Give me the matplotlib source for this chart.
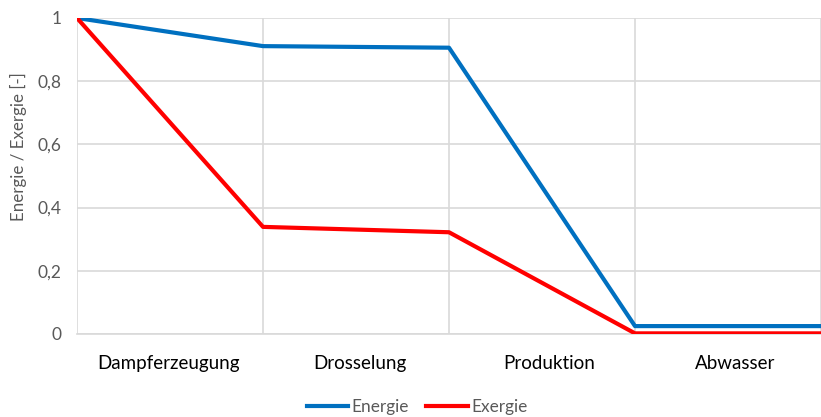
import numpy as np
import matplotlib
matplotlib.use('Agg')
import matplotlib.pyplot as plt

plt.rcParams['font.family'] = ['Lato', 'DejaVu Sans']

categories = ['Dampferzeugung', 'Drosselung', 'Produktion', 'Abwasser']
cat_pos = [0.49, 1.52, 2.54, 3.54]
steps = [0, 1, 2, 3, 4]
energie = [1.0, 0.911, 0.906, 0.025, 0.025]
exergie = [1.0, 0.339, 0.322, 0.002, 0.002]
yticks = [0, 0.2, 0.4, 0.6, 0.8, 1.0]
ytick_labels = ['0', '0,2', '0,4', '0,6', '0,8', '1']

grey = '#595959'
gridc = '#D9D9D9'

fig = plt.figure(figsize=(8.21, 4.17), dpi=100)
ax = fig.add_axes([77/821, 1-334/417, 1-77/821, 316/417])

ax.plot(steps, energie, color='#0070C0', lw=3, solid_joinstyle='round', label='Energie', zorder=3)
ax.plot(steps, exergie, color='#FF0000', lw=3, solid_joinstyle='round', label='Exergie', zorder=3)

ax.set_xlim(0, 744/188)
ax.set_ylim(0, 1)
ax.set_xticks([0, 1, 2, 3, 4])
ax.set_xticklabels([])
ax.set_yticks(yticks)
ax.set_yticklabels(ytick_labels, color=grey, fontsize=12.5)
ax.tick_params(axis='both', length=0)
ax.tick_params(axis='y', pad=11)
ax.grid(True, color=gridc, lw=1.2, zorder=0)
for s in ['top', 'right', 'left']:
    ax.spines[s].set_visible(False)
ax.spines['bottom'].set_color(gridc)
ax.spines['bottom'].set_linewidth(1.2)

for p, c in zip(cat_pos, categories):
    ax.text(p, -0.092, c, ha='center', va='center', fontsize=13.5, color='black',
            transform=ax.get_xaxis_transform())

fig.text(18/821, 1-147/417, 'Energie / Exergie [-]', rotation=90, ha='center', va='center',
         color=grey, fontsize=12.2)

fig.legend(loc='center', bbox_to_anchor=(417/821, 1-407/417), ncol=2, frameon=False,
           fontsize=12.4, labelcolor=grey, handlelength=2.4, handletextpad=0.2,
           columnspacing=1.0)

fig.savefig('out.png', dpi=100)
